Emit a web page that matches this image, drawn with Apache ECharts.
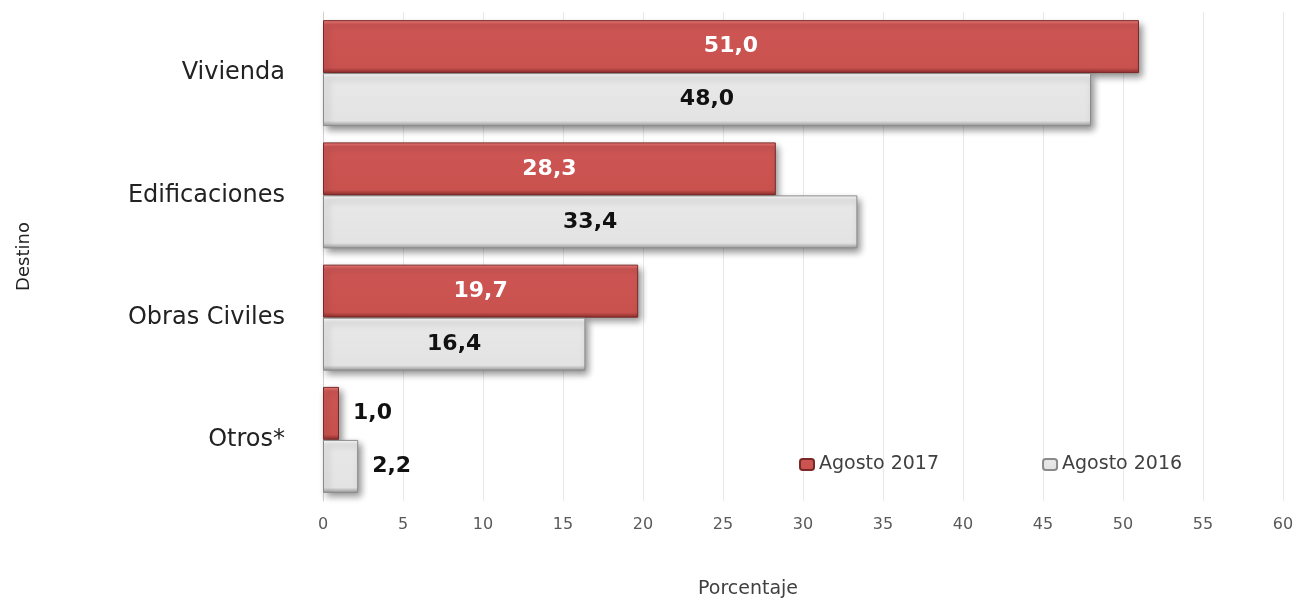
<!DOCTYPE html>
<html>
<head>
<meta charset="utf-8">
<script src="https://cdn.jsdelivr.net/npm/echarts@6/dist/echarts.min.js"></script>
<style>
  html, body { margin: 0; padding: 0; background: #fff; }
  #chart { width: 1297px; height: 600px; }
</style>
</head>
<body>
<div id="chart"></div>
<script>
// categories top to bottom
const categories = ['Vivienda', 'Edificaciones', 'Obras Civiles', 'Otros*'];
const agosto2017 = [51.0, 28.3, 19.7, 1.0];
const agosto2016 = [48.0, 33.4, 16.4, 2.2];
const seriesNames = ['Agosto 2017', 'Agosto 2016'];

const fmt = v => v.toFixed(1).replace('.', ',');
const SMALL = 5; // bars shorter than this get their label outside
const FONT = 'DejaVu Sans, sans-serif';

function labelFor(color) {
    return {
        show: true,
        position: 'inside',
        formatter: p => fmt(p.value),
        color: color,
        fontFamily: FONT,
        fontWeight: 'bold',
        fontSize: 22
    };
}

function buildData(values) {
    return values.map(v => {
        if (v < SMALL) {
            return {
                value: v,
                label: { position: 'right', distance: 14, color: '#111' }
            };
        }
        return { value: v };
    });
}

const chart = echarts.init(document.getElementById('chart'));
chart.setOption({
    animation: false,
    grid: { left: 323, right: 14, top: 12, bottom: 99, outerBoundsMode: 'none', containLabel: false },
    legend: {
        data: seriesNames,
        left: 794,
        top: 450,
        itemGap: 103,
        itemWidth: 14,
        itemHeight: 11,
        textStyle: { fontFamily: FONT, fontSize: 19, color: '#404040' }
    },
    xAxis: {
        type: 'value',
        min: 0,
        max: 60,
        interval: 5,
        name: 'Porcentaje',
        nameLocation: 'middle',
        nameGap: 79,
        nameTextStyle: { fontFamily: FONT, fontSize: 19, color: '#404040', padding: [0, 110, 0, 0] },
        axisLine: { show: false },
        axisTick: { show: false },
        axisLabel: { fontFamily: FONT, fontSize: 16, color: '#595959', margin: 16 },
        splitLine: { lineStyle: { color: '#e9e9e9', width: 1 } }
    },
    yAxis: {
        type: 'category',
        data: categories,
        inverse: true,
        name: 'Destino',
        nameLocation: 'middle',
        nameGap: 290,
        nameRotate: 90,
        nameTextStyle: { fontFamily: FONT, fontSize: 18, color: '#222' },
        axisLine: { lineStyle: { color: '#d0d0d0' } },
        axisTick: { show: false },
        axisLabel: { fontFamily: FONT, fontSize: 24, color: '#222', margin: 38 }
    },
    series: [
        {
            name: seriesNames[0],
            type: 'bar',
            barWidth: 53,
            barGap: '0%',
            data: buildData(agosto2017),
            label: labelFor('#fff'),
            itemStyle: {
                color: new echarts.graphic.LinearGradient(0, 0, 0, 1, [
                    { offset: 0, color: '#ef7f7c' },
                    { offset: 0.08, color: '#cd5654' },
                    { offset: 0.9, color: '#c9524f' },
                    { offset: 1, color: '#8e2e2c' }
                ]),
                borderColor: '#7a2826',
                borderWidth: 1,
                shadowColor: 'rgba(0,0,0,0.45)',
                shadowBlur: 7,
                shadowOffsetX: 3,
                shadowOffsetY: 4
            }
        },
        {
            name: seriesNames[1],
            type: 'bar',
            barWidth: 53,
            barGap: '0%',
            data: buildData(agosto2016),
            label: labelFor('#111'),
            itemStyle: {
                color: new echarts.graphic.LinearGradient(0, 0, 0, 1, [
                    { offset: 0, color: '#ffffff' },
                    { offset: 0.08, color: '#e8e8e8' },
                    { offset: 0.9, color: '#e3e3e3' },
                    { offset: 1, color: '#9a9a9a' }
                ]),
                borderColor: '#8a8a8a',
                borderWidth: 1,
                shadowColor: 'rgba(0,0,0,0.45)',
                shadowBlur: 7,
                shadowOffsetX: 3,
                shadowOffsetY: 4
            }
        }
    ]
});
</script>
</body>
</html>
